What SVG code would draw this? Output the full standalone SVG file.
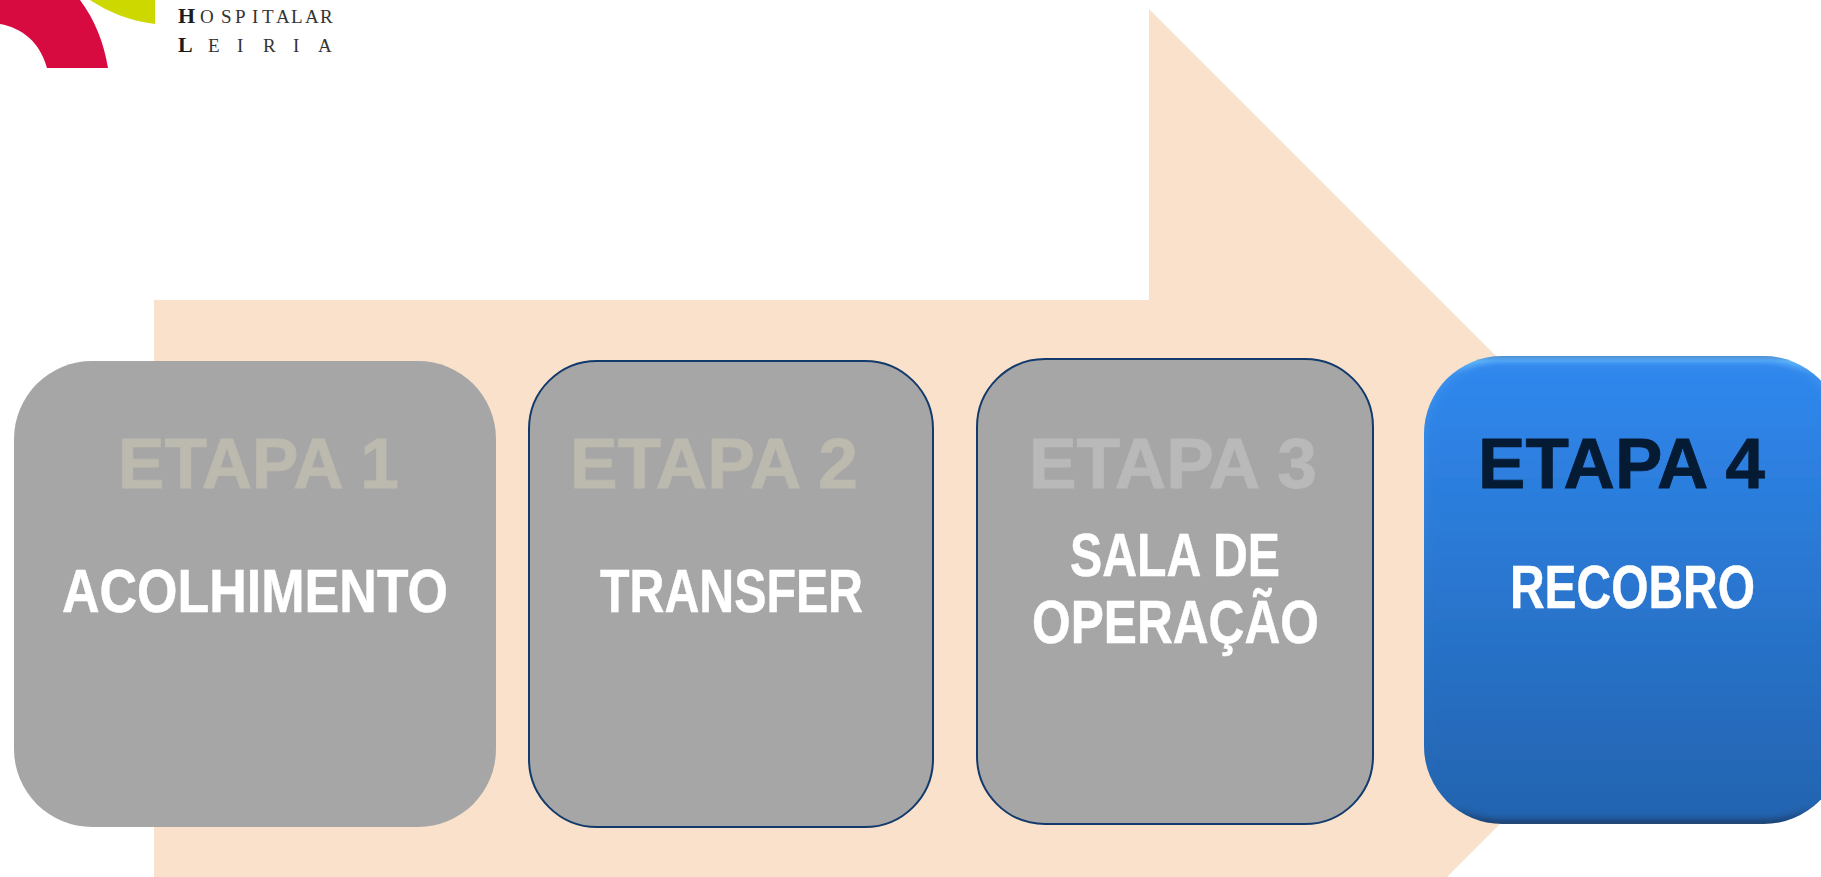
<svg xmlns="http://www.w3.org/2000/svg" width="1821" height="877" viewBox="0 0 1821 877">
<style>
.etapa{font-family:"Liberation Sans",Arial,sans-serif;font-weight:700;font-size:71px;fill:#bcb9ae;stroke:#bcb9ae;stroke-width:.8}
.name{font-family:"Liberation Sans",Arial,sans-serif;font-weight:700;font-size:62px;fill:#fff;stroke:#fff;stroke-width:.5}
.card{fill:#a6a6a6}
.line{stroke:#123a6c;stroke-width:2}
.logo{font-family:"Liberation Serif","Times New Roman",serif;fill:#333;font-size:19px}
.logo .b{font-weight:700;font-size:22px;fill:#1c1c1c}
</style>
<defs>
<linearGradient id="blue" x1="0" y1="0" x2="0" y2="1">
<stop offset="0" stop-color="#3088ee"/><stop offset="1" stop-color="#2364b0"/>
</linearGradient>
<linearGradient id="edge" x1="0" y1="0" x2="0" y2="1">
<stop offset="0" stop-color="#4f8fd2"/><stop offset="0.012" stop-color="#62b6f8"/><stop offset="0.04" stop-color="#3a90ee"/><stop offset="0.96" stop-color="#2364ae"/><stop offset="0.995" stop-color="#1d4478"/><stop offset="1" stop-color="#2b4a70"/>
</linearGradient>
<filter id="soft" x="-5%" y="-5%" width="110%" height="110%"><feGaussianBlur stdDeviation="3"/></filter>
<clipPath id="c4"><rect x="1424" y="356" width="418" height="468" rx="78"/></clipPath>
</defs>
<g id="arrow"><polygon points="154,300 1149,300 1149,9 1732,592 1447,877 154,877" fill="#f9e1cb"/></g>
<g id="logo">
<path d="M0,0H80C95,20 104,43 108,68H47C40,42 22,28 0,24Z" fill="#d80b40"/>
<path d="M90,0C108,12 130,21 155,24V0Z" fill="#cdd800"/>
<text class="logo" y="23"><tspan class="b" x="178">H</tspan><tspan x="200 221 235 252 262 276 291 305 320">OSPITALAR</tspan></text>
<text class="logo" y="51.500"><tspan class="b" x="178">L</tspan><tspan x="208 237 263 293 318">EIRIA</tspan></text>
</g>
<g id="etapa1">
<rect class="card" x="14" y="361" width="482" height="466" rx="78"/>
<text class="etapa" x="118" y="488" textLength="281" lengthAdjust="spacingAndGlyphs">ETAPA 1</text>
<text class="name" x="62" y="612" textLength="386" lengthAdjust="spacingAndGlyphs">ACOLHIMENTO</text>
</g>
<g id="etapa2">
<rect class="card line" x="529" y="361" width="404" height="466" rx="68"/>
<text class="etapa" x="570" y="488" textLength="288" lengthAdjust="spacingAndGlyphs">ETAPA 2</text>
<text class="name" x="600" y="612" textLength="263" lengthAdjust="spacingAndGlyphs">TRANSFER</text>
</g>
<g id="etapa3">
<rect class="card line" x="977" y="359" width="396" height="465" rx="68"/>
<text class="etapa" x="1029" y="488" textLength="288" lengthAdjust="spacingAndGlyphs" style="fill:#b9b9b9;stroke:#b9b9b9">ETAPA 3</text>
<text class="name" x="1070" y="576" textLength="210" lengthAdjust="spacingAndGlyphs">SALA DE</text>
<text class="name" x="1032" y="643" textLength="287" lengthAdjust="spacingAndGlyphs">OPERAÇÃO</text>
</g>
<g id="etapa4">
<rect x="1424" y="356" width="418" height="468" rx="78" fill="url(#edge)"/>
<g clip-path="url(#c4)"><rect x="1427" y="362" width="412" height="456" rx="74" fill="url(#blue)" filter="url(#soft)"/></g>
<text class="etapa" x="1478" y="488" textLength="287" lengthAdjust="spacingAndGlyphs" style="fill:#051a33;stroke:#051a33">ETAPA 4</text>
<text class="name" x="1510" y="608" textLength="245" lengthAdjust="spacingAndGlyphs">RECOBRO</text>
</g>
<g id="connectors"/>
</svg>
